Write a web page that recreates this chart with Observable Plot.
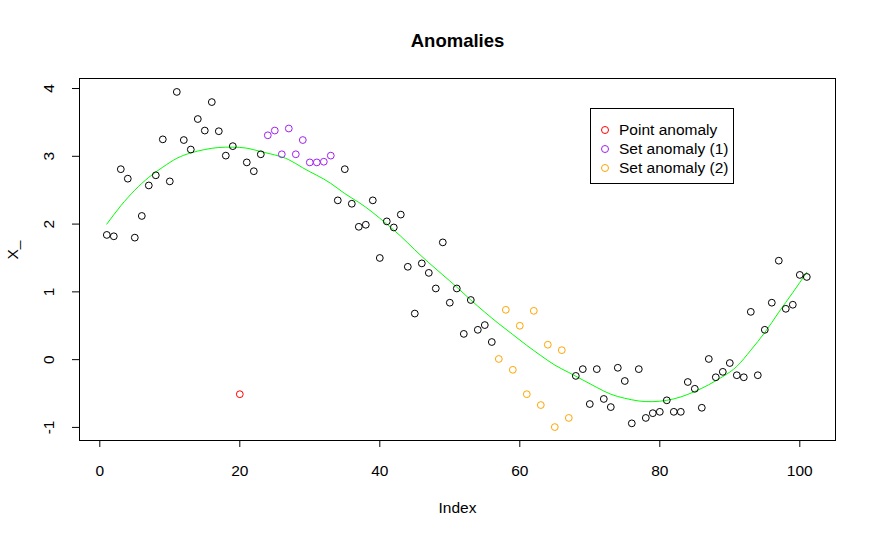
<!DOCTYPE html>
<html>
<head>
<meta charset="utf-8">
<script src="https://cdn.jsdelivr.net/npm/d3@7"></script>
<script src="https://cdn.jsdelivr.net/npm/@observablehq/plot@0.6"></script>
<style>
  html, body { margin: 0; padding: 0; background: #fff; }
  #wrap { position: relative; width: 876px; height: 538px; font-family: "Liberation Sans", Arial, sans-serif; }
  #legend { position: absolute; left: 590px; top: 108px; width: 144px; height: 76px; border: 1px solid #000; box-sizing: border-box; background: #fff; font-size: 15.5px; }
  .row { position: absolute; left: 0; height: 19px; line-height: 19px; white-space: nowrap; }
  .sym { position: absolute; left: 10px; top: 5.5px; width: 6px; height: 6px; border-radius: 50%; border: 1px solid; box-sizing: content-box; }
  .lab { position: absolute; left: 28px; top: 0; color: #000; }
</style>
</head>
<body>
<div id="wrap"></div>
<script>
// Series values X_ for Index 1..101
const values = [
  1.84, 1.82, 2.81, 2.67, 1.80, 2.12, 2.57, 2.72, 3.25, 2.63,
  3.95, 3.24, 3.10, 3.55, 3.38, 3.80, 3.37, 3.01, 3.15, -0.51,
  2.91, 2.78, 3.03, 3.31, 3.38, 3.03, 3.41, 3.03, 3.24, 2.91,
  2.91, 2.92, 3.01, 2.35, 2.81, 2.30, 1.96, 1.99, 2.35, 1.50,
  2.04, 1.95, 2.14, 1.37, 0.68, 1.42, 1.28, 1.05, 1.73, 0.84,
  1.05, 0.38, 0.88, 0.44, 0.51, 0.26, 0.01, 0.735, -0.15, 0.50,
  -0.51, 0.72, -0.67, 0.22, -0.995, 0.14, -0.86, -0.24, -0.14, -0.655,
  -0.14, -0.58, -0.70, -0.12, -0.315, -0.94, -0.14, -0.86, -0.79, -0.77,
  -0.60, -0.77, -0.77, -0.33, -0.43, -0.71, 0.01, -0.26, -0.18, -0.05,
  -0.23, -0.26, 0.705, -0.23, 0.44, 0.84, 1.46, 0.75, 0.81, 1.25,
  1.22
];
// Anomaly indices
const pointAnomaly = [20];
const setAnomaly1 = [24, 25, 26, 27, 28, 29, 30, 31, 32, 33];
const setAnomaly2 = [57, 58, 59, 60, 61, 62, 63, 64, 65, 66, 67];

// Fitted (green) curve
const fitIndex = [1, 3, 5, 7, 9, 11, 13, 15, 17, 19, 21, 23, 25, 27, 29, 31, 33, 35, 37, 39, 41, 43, 45, 47, 49, 51, 53, 55, 57, 59, 61, 63, 65, 67, 69, 71, 73, 75, 77, 79, 81, 83, 85, 87, 89, 91, 93, 95, 97, 99, 101];
const fitValue = [2.00, 2.27, 2.50, 2.69, 2.84, 2.97, 3.05, 3.10, 3.13, 3.135, 3.12, 3.07, 3.02, 2.95, 2.83, 2.72, 2.60, 2.45, 2.32, 2.17, 2.00, 1.82, 1.62, 1.43, 1.25, 1.07, 0.88, 0.70, 0.53, 0.37, 0.21, 0.06, -0.08, -0.19, -0.30, -0.41, -0.51, -0.57, -0.61, -0.62, -0.60, -0.55, -0.47, -0.37, -0.25, -0.10, 0.14, 0.40, 0.70, 0.99, 1.29];

// Axis tick labels
const xTicks = [0, 20, 40, 60, 80, 100];
const yTicks = [-1, 0, 1, 2, 3, 4];

const legendItems = ["Point anomaly", "Set anomaly (1)", "Set anomaly (2)"];
const legendColors = ["red", "#A020F0", "orange"];

const points = values.map((v, i) => {
  const idx = i + 1;
  let group = "normal";
  if (pointAnomaly.includes(idx)) group = "point";
  else if (setAnomaly1.includes(idx)) group = "set1";
  else if (setAnomaly2.includes(idx)) group = "set2";
  return {idx, v, group};
});
const fit = fitIndex.map((x, i) => ({x, y: fitValue[i]}));
const colorOf = {normal: "black", point: "red", set1: "#A020F0", set2: "orange"};

const font = '"Liberation Sans", Arial, sans-serif';

const chart = Plot.plot({
  width: 876,
  height: 538,
  marginLeft: 79,
  marginRight: 41,
  marginTop: 78,
  marginBottom: 98,
  style: {fontFamily: font, fontSize: "15.5px", color: "black", background: "white", overflow: "visible"},
  x: {domain: [-2.9, 105.1]},
  y: {domain: [-1.193, 4.148]},
  marks: [
    Plot.frame({stroke: "black", strokeWidth: 1}),
    Plot.axisX({ticks: xTicks, tickSize: 7, tickPadding: 17, label: null, fontSize: 15.5, tickFormat: d => d}),
    Plot.axisY({ticks: yTicks, tickSize: 7, tickRotate: -90, tickPadding: 19, label: null, fontSize: 15.5, tickFormat: d => d}),
    Plot.line(fit, {x: "x", y: "y", stroke: "#00FF00", strokeWidth: 1, curve: "natural"}),
    Plot.dot(points, {x: "idx", y: "v", r: 3.4, fill: "none", stroke: d => colorOf[d.group], strokeWidth: 1}),
    Plot.text(["Anomalies"], {frameAnchor: "top", dy: -45, text: d => d, fontWeight: "bold", fontSize: 18.5}),
    Plot.text(["Index"], {frameAnchor: "bottom", dy: 72, text: d => d, fontSize: 15.5}),
    Plot.text(["X_"], {frameAnchor: "left", dx: -66, rotate: -90, text: d => d, fontSize: 15.5})
  ]
});

const wrap = document.getElementById("wrap");
wrap.appendChild(chart);

const legend = document.createElement("div");
legend.id = "legend";
legendItems.forEach((t, i) => {
  const row = document.createElement("div");
  row.className = "row";
  row.style.top = (11 + i * 19) + "px";
  row.style.width = "100%";
  const s = document.createElement("span");
  s.className = "sym";
  s.style.borderColor = legendColors[i];
  const l = document.createElement("span");
  l.className = "lab";
  l.textContent = t;
  row.appendChild(s);
  row.appendChild(l);
  legend.appendChild(row);
});
wrap.appendChild(legend);
</script>
</body>
</html>
